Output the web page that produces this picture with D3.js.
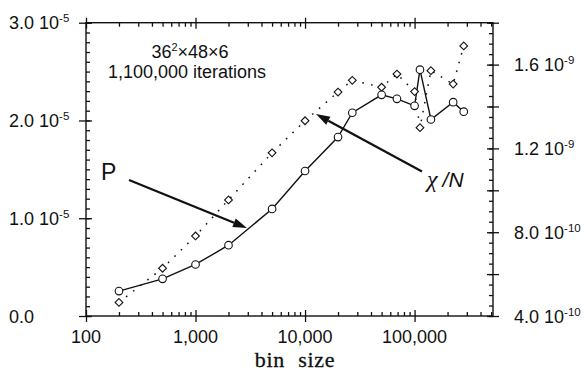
<!DOCTYPE html>
<html>
<head>
<meta charset="utf-8">
<script src="https://cdn.jsdelivr.net/npm/d3@7"></script>
<style>
body{margin:0;background:#fff;}
svg{display:block;font-family:"Liberation Sans",Arial,Helvetica,sans-serif;}
</style>
</head>
<body>
<svg id="chart"></svg>
<script>
// bin sizes (same for both series)
var binSizes = [200, 500, 1000, 2000, 5000, 10000, 20000, 27000, 50000, 69000, 100000, 112000, 141000, 225000, 281000];
// P, read on the left axis
var pValues = [2.55e-6, 3.8e-6, 5.27e-6, 7.24e-6, 1.095e-5, 1.483e-5, 1.83e-5, 2.079e-5, 2.262e-5, 2.221e-5, 2.15e-5, 2.52e-5, 2.01e-5, 2.187e-5, 2.09e-5];
// chi/N, read on the right axis
var chiValues = [4.65e-10, 6.28e-10, 7.82e-10, 9.54e-10, 1.179e-9, 1.332e-9, 1.469e-9, 1.525e-9, 1.492e-9, 1.555e-9, 1.471e-9, 1.299e-9, 1.571e-9, 1.507e-9, 1.689e-9];

var xTickValues = [100, 1000, 10000, 100000];
var xTickLabels = ["100", "1,000", "10,000", "100,000"];
var leftTickValues = [0, 1e-5, 2e-5, 3e-5];
var leftTickMantissas = ["0.0", "1.0", "2.0", "3.0"];
var leftTickExponents = [null, "-5", "-5", "-5"];
var rightTickValues = [4e-10, 8e-10, 1.2e-9, 1.6e-9];
var rightTickMantissas = ["4.0", "8.0", "1.2", "1.6"];
var rightTickExponents = ["-10", "-10", "-9", "-9"];

var screen = {width:586, height:373};
var margins = {top:22.7, bottom:57, left:86, right:93};
var graph = {
    width:screen.width-margins.left-margins.right,
    height:screen.height-margins.top-margins.bottom
};
var bottomY = margins.top+graph.height;
var rightX = margins.left+graph.width;

var svg = d3.select("#chart")
    .attr("width",screen.width)
    .attr("height",screen.height);

var xScale = d3.scaleLog()
    .domain([100, 5.2e5])
    .range([margins.left, rightX]);
var yLeft = d3.scaleLinear()
    .domain([0, 3e-5])
    .range([bottomY, margins.top]);
var yRight = d3.scaleLinear()
    .domain([4e-10, 1.8e-9])
    .range([bottomY, margins.top]);

// minor tick positions
var xMinor = [];
[100, 1000, 10000, 100000].forEach(function(d)
{
    for (var k = 2; k <= 9; k++) if (d*k <= 5.2e5) xMinor.push(d*k);
});
var leftMinor = d3.range(0, 31).map(function(i){return i*1e-6;});
var rightMinor = d3.range(0, 29).map(function(i){return 4e-10+i*5e-11;});
var rightMajor = d3.range(0, 8).map(function(i){return 4e-10+i*2e-10;});

// draws a set of bare ticks with a d3 axis
var tickGroup = function(axis, transform)
{
    var g = svg.append("g")
        .attr("transform",transform)
        .call(axis.tickFormat("").tickSizeOuter(0));
    g.select(".domain").remove();
    g.selectAll("line").attr("stroke","#111").attr("stroke-width",1.3);
    return g;
}

// bottom and top
tickGroup(d3.axisBottom(xScale).tickValues(xMinor).tickSizeInner(-4), "translate(0,"+bottomY+")");
tickGroup(d3.axisBottom(xScale).tickValues(xTickValues).tickSizeInner(-6), "translate(0,"+bottomY+")");
tickGroup(d3.axisBottom(xScale).tickValues(xTickValues).tickSizeInner(6), "translate(0,"+bottomY+")");
tickGroup(d3.axisTop(xScale).tickValues(xMinor).tickSizeInner(-4), "translate(0,"+margins.top+")");
tickGroup(d3.axisTop(xScale).tickValues(xTickValues).tickSizeInner(-6), "translate(0,"+margins.top+")");
tickGroup(d3.axisTop(xScale).tickValues(xTickValues).tickSizeInner(5), "translate(0,"+margins.top+")");
// left
tickGroup(d3.axisLeft(yLeft).tickValues(leftMinor).tickSizeInner(-4), "translate("+margins.left+",0)");
tickGroup(d3.axisLeft(yLeft).tickValues(leftTickValues).tickSizeInner(-6), "translate("+margins.left+",0)");
tickGroup(d3.axisLeft(yLeft).tickValues(leftTickValues).tickSizeInner(7), "translate("+margins.left+",0)");
// right
tickGroup(d3.axisRight(yRight).tickValues(rightMinor).tickSizeInner(-4), "translate("+rightX+",0)");
tickGroup(d3.axisRight(yRight).tickValues(rightMajor).tickSizeInner(-6), "translate("+rightX+",0)");
tickGroup(d3.axisRight(yRight).tickValues(rightMajor).tickSizeInner(6), "translate("+rightX+",0)");

// frame
svg.append("rect")
    .attr("x",margins.left)
    .attr("y",margins.top)
    .attr("width",graph.width)
    .attr("height",graph.height)
    .attr("fill","none")
    .attr("stroke","#111")
    .attr("stroke-width",1.4);

// tick labels with superscript exponent
var sciLabel = function(x, y, mantissa, exponent)
{
    var t = svg.append("text")
        .attr("x",x)
        .attr("y",y)
        .attr("font-size",18)
        .attr("fill","#111")
        .text(mantissa);
    if (exponent)
    {
        t.append("tspan").text(" 10");
        t.append("tspan")
            .attr("font-size",11.5)
            .attr("baseline-shift",7.5)
            .text(exponent);
    }
}
leftTickValues.forEach(function(v,i)
{
    sciLabel(9, yLeft(v)+6.5, leftTickMantissas[i], leftTickExponents[i]);
});
rightTickValues.forEach(function(v,i)
{
    sciLabel(514, yRight(v)+6.5, rightTickMantissas[i], rightTickExponents[i]);
});
svg.selectAll(".xlabel")
    .data(xTickValues)
    .enter()
    .append("text")
    .attr("x",function(d){return xScale(d);})
    .attr("y",343)
    .attr("text-anchor","middle")
    .attr("font-size",18)
    .attr("fill","#111")
    .text(function(d,i){return xTickLabels[i];});

svg.append("text")
    .attr("x",295)
    .attr("y",367)
    .attr("text-anchor","middle")
    .attr("font-family","'Liberation Serif','Times New Roman',serif")
    .attr("font-size",22)
    .attr("word-spacing",7)
    .attr("letter-spacing",0.7)
    .attr("stroke","#111")
    .attr("stroke-width",0.3)
    .attr("fill","#111")
    .text("bin size");

// series
var points = d3.zip(binSizes, pValues, chiValues);

svg.append("path")
    .datum(points)
    .attr("fill","none")
    .attr("stroke","#111")
    .attr("stroke-width",1.5)
    .attr("stroke-dasharray","1.6,7.4")
    .attr("d",d3.line()
        .x(function(d){return xScale(d[0]);})
        .y(function(d){return yRight(d[2]);}));

svg.append("path")
    .datum(points)
    .attr("fill","none")
    .attr("stroke","#111")
    .attr("stroke-width",1.4)
    .attr("d",d3.line()
        .x(function(d){return xScale(d[0]);})
        .y(function(d){return yLeft(d[1]);}));

svg.selectAll(".diamond")
    .data(points)
    .enter()
    .append("path")
    .attr("d",d3.symbol(d3.symbolSquare,30)())
    .attr("transform",function(d)
    {
        return "translate("+xScale(d[0])+","+yRight(d[2])+") rotate(45)";
    })
    .attr("fill","#fff")
    .attr("stroke","#111")
    .attr("stroke-width",1.1);

svg.selectAll(".dot")
    .data(points)
    .enter()
    .append("circle")
    .attr("cx",function(d){return xScale(d[0]);})
    .attr("cy",function(d){return yLeft(d[1]);})
    .attr("r",3.8)
    .attr("fill","#fff")
    .attr("stroke","#111")
    .attr("stroke-width",1.1);

// arrows pointing at the two curves
var drawArrow = function(x1, y1, x2, y2)
{
    var ang = Math.atan2(y2-y1, x2-x1);
    var len = 14, half = 4.5;
    var bx = x2-len*Math.cos(ang), by = y2-len*Math.sin(ang);
    svg.append("line")
        .attr("x1",x1).attr("y1",y1)
        .attr("x2",bx).attr("y2",by)
        .attr("stroke","#111")
        .attr("stroke-width",2.2);
    svg.append("path")
        .attr("d","M"+x2+","+y2+
            "L"+(bx+half*Math.sin(ang))+","+(by-half*Math.cos(ang))+
            "L"+(bx-half*Math.sin(ang))+","+(by+half*Math.cos(ang))+"Z")
        .attr("fill","#111");
}
drawArrow(129, 180, 247, 228);
drawArrow(422, 171.5, 316, 114);

// annotations
var note = svg.append("text")
    .attr("x",190)
    .attr("y",57.5)
    .attr("text-anchor","middle")
    .attr("font-size",18)
    .attr("fill","#111");
note.append("tspan").text("36");
note.append("tspan").attr("font-size",11).attr("baseline-shift",7).text("2");
note.append("tspan").text("\u00d748\u00d76");

svg.append("text")
    .attr("x",187)
    .attr("y",78)
    .attr("text-anchor","middle")
    .attr("font-size",18)
    .attr("fill","#111")
    .text("1,100,000 iterations");

svg.append("text")
    .attr("x",101)
    .attr("y",180)
    .attr("font-size",23)
    .attr("fill","#111")
    .text("P");

var chi = svg.append("text")
    .attr("x",427)
    .attr("y",187)
    .attr("fill","#111");
chi.append("tspan")
    .attr("font-family","'Liberation Serif','Times New Roman',serif")
    .attr("font-style","italic")
    .attr("font-size",24)
    .text("\u03c7");
chi.append("tspan")
    .attr("font-style","italic")
    .attr("font-size",21)
    .attr("dx",5)
    .text("/N");
</script>
</body>
</html>
